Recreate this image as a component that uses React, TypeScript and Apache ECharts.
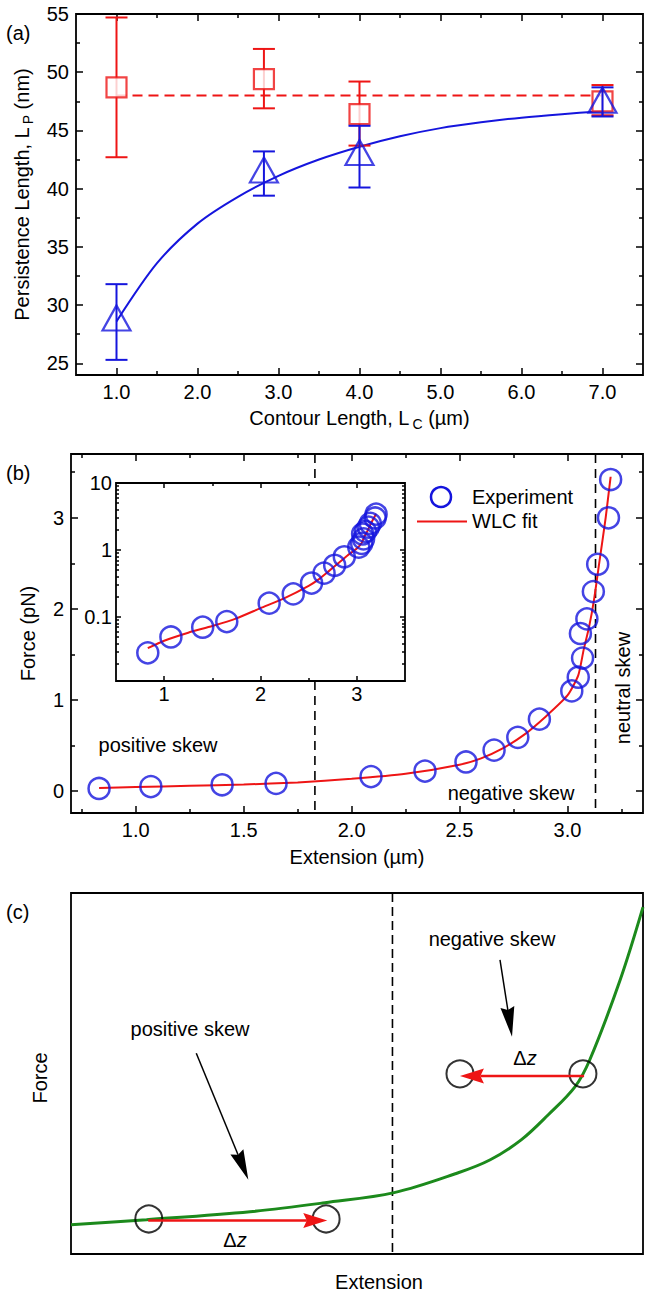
import React, { useEffect, useRef } from "react";
import * as echarts from "echarts";

// ---------- Panel (a) data ----------
const contourLengths = [1.0, 2.82, 4.0, 7.0];
const lpSquare = [48.7, 49.4, 46.4, 47.5];
const lpSquareLo = [42.7, 46.9, 43.7, 46.3];
const lpSquareHi = [54.7, 52.0, 49.2, 48.9];
const lpTriangle = [28.9, 41.6, 43.1, 47.6];
const lpTriangleLo = [25.3, 39.4, 40.1, 46.2];
const lpTriangleHi = [31.8, 43.2, 45.4, 48.7];
const meanLpX = [1.0, 7.0];
const meanLpY = [48, 48];
const fitLcX = [1, 1.5, 2, 2.5, 3, 3.5, 4, 4.5, 5, 5.5, 6, 6.5, 7];
const fitLpY = [28.6, 33.6, 37.0, 39.3, 41.1, 42.5, 43.6, 44.5, 45.2, 45.7, 46.1, 46.4, 46.65];
const aXMajor = [1, 2, 3, 4, 5, 6, 7];
const aXMinor = [1.5, 2.5, 3.5, 4.5, 5.5, 6.5];
const aYMajor = [25, 30, 35, 40, 45, 50, 55];
const aYMinor = [27.5, 32.5, 37.5, 42.5, 47.5, 52.5];

// ---------- Panel (b) data ----------
const extension = [0.83, 1.07, 1.40, 1.65, 2.09, 2.34, 2.53, 2.66, 2.77, 2.87, 3.02, 3.05, 3.07, 3.06, 3.09, 3.12, 3.14, 3.19, 3.20];
const force = [0.029, 0.050, 0.070, 0.085, 0.16, 0.22, 0.32, 0.45, 0.59, 0.79, 1.10, 1.25, 1.46, 1.73, 1.89, 2.19, 2.49, 3.00, 3.42];
const wlcExt = [0.83, 1.0, 1.25, 1.5, 1.75, 2.0, 2.25, 2.5, 2.6, 2.7, 2.8, 2.9, 3.0, 3.05, 3.075, 3.1, 3.123, 3.147, 3.177, 3.2];
const wlcForce = [0.034, 0.044, 0.058, 0.073, 0.095, 0.135, 0.19, 0.29, 0.36, 0.47, 0.62, 0.82, 1.05, 1.27, 1.55, 1.8, 2.1, 2.5, 3.0, 3.45];
const skewDividers = [1.83, 3.13];
const bXMajor = [1.0, 1.5, 2.0, 2.5, 3.0];
const bXMinor = [0.75, 1.25, 1.75, 2.25, 2.75, 3.25];
const bYMajor = [0, 1, 2, 3];
const bYMinor = [0.5, 1.5, 2.5, 3.5];
const insetXMajor = [1, 2, 3];
const insetXMinor = [1.5, 2.5];
const insetYMajor = [0.1, 1, 10];
const insetYMinor = [0.02, 0.03, 0.04, 0.05, 0.06, 0.07, 0.08, 0.09, 0.2, 0.3, 0.4, 0.5, 0.6, 0.7, 0.8, 0.9, 2, 3, 4, 5, 6, 7, 8, 9];

// ---------- Panel (c) schematic data (normalised units) ----------
const cCurveX = [0, 0.132, 0.313, 0.444, 0.565, 0.677, 0.733, 0.787, 0.834, 0.881, 0.907, 0.960, 1.0];
const cCurveY = [0.081, 0.095, 0.117, 0.142, 0.170, 0.225, 0.261, 0.316, 0.385, 0.463, 0.538, 0.759, 0.961];
const cCircleX = [0.136, 0.446, 0.680, 0.895];
const cCircleY = [0.097, 0.097, 0.499, 0.499];
const dzFromX = [0.135, 0.897];
const dzToX = [0.448, 0.680];
const dzY = [0.093, 0.493];
const skewFromX = [0.219, 0.750];
const skewFromY = [0.556, 0.815];
const skewToX = [0.310, 0.771];
const skewToY = [0.206, 0.602];
const cDivider = [0.562];

const FONT = '"Liberation Sans", Arial, Helvetica, sans-serif';
const FS = 20;
const BLUE = "#1515dd";
const RED = "#ee1515";
const GREEN = "#1c8a1c";
const INSET = { left: 116, top: 483, width: 289, height: 198 };

function tickAxes(grid: number, dim: "x" | "y", type: string, min: number, max: number,
  majors: number[], minors: number[], label: any, lens: number[], extra: any = {}, z = 0) {
  const sides = dim === "x" ? ["bottom", "top"] : ["left", "right"];
  const res: any[] = [];
  sides.forEach((pos, si) => {
    [majors, minors].forEach((vals, mi) => {
      const isMain = si === 0 && mi === 0;
      const ax: any = {
        type, gridIndex: grid, position: pos, min, max, z,
        axisLine: { show: false, onZero: false },
        splitLine: { show: false },
        minorSplitLine: { show: false },
        axisPointer: { show: false },
        axisTick: { show: true, inside: true, customValues: vals, length: mi === 0 ? lens[0] : lens[1], lineStyle: { color: "#000", width: 1.5 } },
        axisLabel: isMain && label ? { ...label, customValues: majors } : { show: false },
      };
      if (type === "log") ax.logBase = 10;
      if (isMain) Object.assign(ax, extra);
      res.push(ax);
    });
  });
  return res;
}

const labelStyle = { color: "#000", fontSize: FS, fontFamily: FONT };
const nameStyle = {
  color: "#000", fontSize: FS, fontFamily: FONT, lineHeight: 27,
  rich: { s: { fontSize: 14, fontFamily: FONT, color: "#000", verticalAlign: "bottom", lineHeight: 15, padding: [0, 0, 0, 3] } },
};

function errorBarRender(color: string) {
  return (params: any, api: any) => {
    const x = api.value(0);
    const lo = api.coord([x, api.value(1)]);
    const hi = api.coord([x, api.value(2)]);
    const w = 11;
    const st = { stroke: color, lineWidth: 2 };
    return {
      type: "group",
      children: [
        { type: "line", shape: { x1: lo[0], y1: lo[1], x2: hi[0], y2: hi[1] }, style: st },
        { type: "line", shape: { x1: lo[0] - w, y1: lo[1], x2: lo[0] + w, y2: lo[1] }, style: st },
        { type: "line", shape: { x1: hi[0] - w, y1: hi[1], x2: hi[0] + w, y2: hi[1] }, style: st },
      ],
    };
  };
}

// full-height dashed divider at a given x; interrupted where an inset box sits
function dividerRender(dash: number[], hole: any, color: string) {
  return (params: any, api: any) => {
    const cs = params.coordSys;
    const p = api.coord([api.value(0), 0]);
    const top = cs.y, bottom = cs.y + cs.height;
    const style = { stroke: color, lineWidth: 1.6, lineDash: dash };
    const segs: number[][] = [];
    if (hole && p[0] > hole.left && p[0] < hole.left + hole.width) {
      segs.push([top, hole.top]);
      segs.push([hole.top + hole.height, bottom]);
    } else {
      segs.push([top, bottom]);
    }
    return {
      type: "group",
      children: segs.map((s) => ({ type: "line", shape: { x1: p[0], y1: s[0], x2: p[0], y2: s[1] }, style })),
    };
  };
}

function arrowRender(color: string, lw: number, hl: number, hw: number, notch: number) {
  return (params: any, api: any) => {
    const p1 = api.coord([api.value(0), api.value(1)]);
    const p2 = api.coord([api.value(2), api.value(3)]);
    const dx = p2[0] - p1[0], dy = p2[1] - p1[1];
    const len = Math.hypot(dx, dy) || 1;
    const ux = dx / len, uy = dy / len;
    const bx = p2[0] - ux * hl, by = p2[1] - uy * hl;
    const nx = bx + ux * hl * notch, ny = by + uy * hl * notch;
    const h = hw / 2;
    return {
      type: "group",
      children: [
        { type: "line", shape: { x1: p1[0], y1: p1[1], x2: nx, y2: ny }, style: { stroke: color, lineWidth: lw } },
        {
          type: "polygon",
          shape: { points: [[p2[0], p2[1]], [bx - uy * h, by + ux * h], [nx, ny], [bx + uy * h, by - ux * h]] },
          style: { fill: color },
        },
      ],
    };
  };
}

function txt(text: string, x: number, y: number, extra: any = {}, rot = 0) {
  return {
    type: "text", x, y, rotation: rot, z: 100,
    style: { text, fill: "#000", fontSize: FS, fontFamily: FONT, align: "center", verticalAlign: "middle", ...extra },
  };
}

export default function App() {
  const ref = useRef<HTMLDivElement>(null);
  useEffect(() => {
    document.body.style.margin = "0";
    const chart = echarts.init(ref.current!, null, { renderer: "svg" });

    const xAxes = [
      ...tickAxes(0, "x", "value", 0.5, 7.5, aXMajor, aXMinor,
        { ...labelStyle, margin: 7, formatter: (v: number) => v.toFixed(1) }, [7, 4],
        { name: "Contour Length, L{s|C} (\u00b5m)", nameLocation: "middle", nameGap: 29, nameTextStyle: nameStyle }),
      ...tickAxes(1, "x", "value", 0.7, 3.35, bXMajor, bXMinor,
        { ...labelStyle, margin: 7, formatter: (v: number) => v.toFixed(1) }, [7, 4],
        { name: "Extension (\u00b5m)", nameLocation: "middle", nameGap: 34, nameTextStyle: { ...labelStyle } }),
      ...tickAxes(2, "x", "value", 0.5, 3.5, insetXMajor, insetXMinor,
        { ...labelStyle, margin: 3, formatter: (v: number) => String(v) }, [5, 3], {}, 11),
      { type: "value", gridIndex: 3, min: 0, max: 1, show: false },
    ];
    const yAxes = [
      ...tickAxes(0, "y", "value", 24, 55, aYMajor, aYMinor,
        { ...labelStyle, margin: 7 }, [7, 4],
        { name: "Persistence Length, L{s|P} (nm)", nameLocation: "middle", nameGap: 41, nameTextStyle: nameStyle }),
      ...tickAxes(1, "y", "value", -0.24, 3.7, bYMajor, bYMinor,
        { ...labelStyle, margin: 7 }, [7, 4],
        { name: "Force (pN)", nameLocation: "middle", nameGap: 33, nameTextStyle: { ...labelStyle } }),
      ...tickAxes(2, "y", "log", 0.011, 10, insetYMajor, insetYMinor,
        { ...labelStyle, margin: 4, formatter: (v: number) => String(v) }, [5, 3], {}, 11),
      { type: "value", gridIndex: 3, min: 0, max: 1, show: false },
    ];
    // axis indices: panel a 0-3, panel b 4-7, inset 8-11, panel c 12
    const A = 0, B = 4, I = 8, C = 12;

    const option: any = {
      animation: false,
      backgroundColor: "#fff",
      textStyle: { fontFamily: FONT },
      grid: [
        { left: 71, top: 14, width: 572, height: 361, show: true, borderColor: "#000", borderWidth: 1.8, backgroundColor: "transparent" },
        { left: 71, top: 454, width: 572, height: 359, show: true, borderColor: "#000", borderWidth: 1.8, backgroundColor: "transparent" },
        { ...INSET, show: true, borderColor: "#000", borderWidth: 1.8, backgroundColor: "#fff", z: 10 },
        { left: 71, top: 893, width: 572, height: 361, show: true, borderColor: "#000", borderWidth: 1.8, backgroundColor: "transparent" },
      ],
      xAxis: xAxes,
      yAxis: yAxes,
      series: [
        // ----- panel (a)
        {
          type: "line", xAxisIndex: A, yAxisIndex: A, showSymbol: false, z: 2,
          data: meanLpX.map((x, i) => [x, meanLpY[i]]),
          lineStyle: { color: RED, width: 2, type: [10, 6] },
        },
        {
          type: "line", xAxisIndex: A, yAxisIndex: A, showSymbol: false, smooth: 0.3, z: 2,
          data: fitLcX.map((x, i) => [x, fitLpY[i]]),
          lineStyle: { color: BLUE, width: 2 },
        },
        {
          type: "custom", xAxisIndex: A, yAxisIndex: A, z: 3,
          renderItem: errorBarRender(RED), encode: { x: 0, y: [1, 2] },
          data: contourLengths.map((x, i) => [x, lpSquareLo[i], lpSquareHi[i]]),
        },
        {
          type: "scatter", xAxisIndex: A, yAxisIndex: A, symbol: "rect", symbolSize: 20, z: 4,
          data: contourLengths.map((x, i) => [x, lpSquare[i]]),
          itemStyle: { color: "#fff", borderColor: RED, borderWidth: 2.2 },
        },
        {
          type: "custom", xAxisIndex: A, yAxisIndex: A, z: 5,
          renderItem: errorBarRender(BLUE), encode: { x: 0, y: [1, 2] },
          data: contourLengths.map((x, i) => [x, lpTriangleLo[i], lpTriangleHi[i]]),
        },
        {
          type: "scatter", xAxisIndex: A, yAxisIndex: A, symbol: "triangle", symbolSize: [28, 25], z: 6,
          data: contourLengths.map((x, i) => [x, lpTriangle[i]]),
          itemStyle: { color: "transparent", borderColor: BLUE, borderWidth: 2.2 },
        },
        // ----- panel (b)
        {
          type: "custom", xAxisIndex: B, yAxisIndex: B, z: 1, silent: true,
          renderItem: dividerRender([9, 6], INSET, "#000"), encode: { x: 0 },
          data: skewDividers.map((x) => [x]),
        },
        {
          type: "line", xAxisIndex: B, yAxisIndex: B, showSymbol: false, smooth: 0.2, z: 2,
          data: wlcExt.map((x, i) => [x, wlcForce[i]]),
          lineStyle: { color: RED, width: 2 },
        },
        {
          type: "scatter", xAxisIndex: B, yAxisIndex: B, symbol: "circle", symbolSize: 21, z: 3,
          data: extension.map((x, i) => [x, force[i]]),
          itemStyle: { color: "transparent", borderColor: BLUE, borderWidth: 2.5 },
        },
        // ----- inset
        {
          type: "line", xAxisIndex: I, yAxisIndex: I, showSymbol: false, smooth: 0.2, z: 12,
          data: wlcExt.map((x, i) => [x, wlcForce[i]]),
          lineStyle: { color: RED, width: 2 },
        },
        {
          type: "scatter", xAxisIndex: I, yAxisIndex: I, symbol: "circle", symbolSize: 21, z: 13,
          data: extension.map((x, i) => [x, force[i]]),
          itemStyle: { color: "transparent", borderColor: BLUE, borderWidth: 2.5 },
        },
        // ----- panel (c)
        {
          type: "custom", xAxisIndex: C, yAxisIndex: C, z: 1, silent: true,
          renderItem: dividerRender([9, 5], null, "#000"), encode: { x: 0 },
          data: cDivider.map((x) => [x]),
        },
        {
          type: "line", xAxisIndex: C, yAxisIndex: C, showSymbol: false, smooth: 0.35, z: 2,
          data: cCurveX.map((x, i) => [x, cCurveY[i]]),
          lineStyle: { color: GREEN, width: 3 },
        },
        {
          type: "scatter", xAxisIndex: C, yAxisIndex: C, symbol: "circle", symbolSize: 27, z: 3,
          data: cCircleX.map((x, i) => [x, cCircleY[i]]),
          itemStyle: { color: "transparent", borderColor: "#000", borderWidth: 2 },
        },
        {
          type: "custom", xAxisIndex: C, yAxisIndex: C, z: 4,
          renderItem: arrowRender(RED, 2.5, 24, 15, 0.15), encode: { x: [0, 2], y: [1, 3] },
          data: dzFromX.map((x, i) => [x, dzY[i], dzToX[i], dzY[i]]),
        },
        {
          type: "custom", xAxisIndex: C, yAxisIndex: C, z: 4,
          renderItem: arrowRender("#000", 1.5, 30, 14, 0.1), encode: { x: [0, 2], y: [1, 3] },
          data: skewFromX.map((x, i) => [x, skewFromY[i], skewToX[i], skewToY[i]]),
        },
      ],
      graphic: [
        { type: "rect", shape: { x: INSET.left + 1, y: INSET.top + 1, width: INSET.width - 2, height: INSET.height - 2 }, style: { fill: "#fff" }, z: 10.5, silent: true },
        txt("(a)", 6, 33, { align: "left" }),
        txt("(b)", 6, 473, { align: "left" }),
        txt("(c)", 6, 912, { align: "left" }),
        txt("positive skew", 158, 745),
        txt("negative skew", 511, 793),
        txt("neutral skew", 623, 688, {}, Math.PI / 2),
        { type: "circle", shape: { cx: 441, cy: 497, r: 10 }, style: { fill: "transparent", stroke: BLUE, lineWidth: 2.5 }, z: 100 },
        txt("Experiment", 472, 497, { align: "left" }),
        { type: "line", shape: { x1: 417, y1: 521.5, x2: 467, y2: 521.5 }, style: { stroke: RED, lineWidth: 2 }, z: 100 },
        txt("WLC fit", 472, 521, { align: "left" }),
        txt("positive skew", 190, 1029),
        txt("negative skew", 492, 939),
        { type: "text", x: 235, y: 1240, z: 100, style: { text: "\u0394{i|z}", fill: "#000", fontSize: FS, fontFamily: FONT, align: "center", verticalAlign: "middle", rich: { i: { fontStyle: "italic", fontSize: FS, fontFamily: FONT } } } },
        { type: "text", x: 525, y: 1058, z: 100, style: { text: "\u0394{i|z}", fill: "#000", fontSize: FS, fontFamily: FONT, align: "center", verticalAlign: "middle", rich: { i: { fontStyle: "italic", fontSize: FS, fontFamily: FONT } } } },
        txt("Force", 40, 1078, {}, Math.PI / 2),
        txt("Extension", 379, 1282),
      ],
    };
    chart.setOption(option);
    return () => chart.dispose();
  }, []);
  return <div ref={ref} style={{ width: 650, height: 1295 }} />;
}
